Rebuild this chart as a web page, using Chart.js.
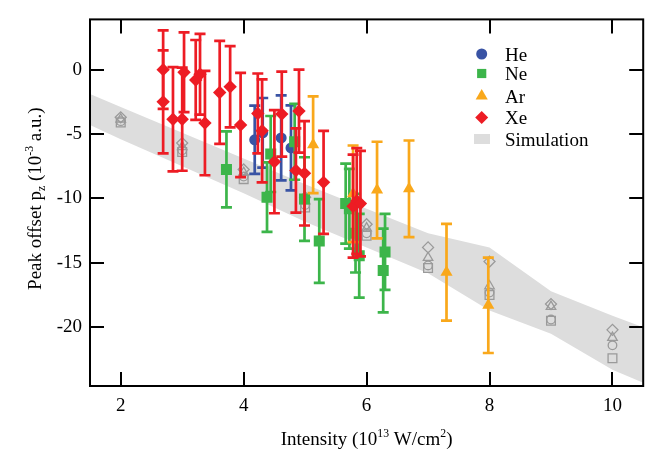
<!DOCTYPE html>
<html>
<head>
<meta charset="utf-8">
<script src="https://cdn.jsdelivr.net/npm/chart.js@4.4.0/dist/chart.umd.min.js"></script>
<style>
  html, body { margin: 0; padding: 0; background: #fff; }
</style>
</head>
<body>
<canvas id="chart" width="651" height="454"></canvas>
<script>
// values: x = intensity (1e13 W/cm2), y = peak offset (1e-3 a.u.)
const heX = [4.18, 4.31, 4.61, 4.77];
const heY = [-5.45, -4.9, -5.3, -6.08];
const heErr = [2.65, 2.7, 3.3, 3.3];

const neX = [3.72, 4.44, 4.38, 4.83, 4.99, 5.23, 5.66, 5.72, 5.82, 5.88, 6.3, 6.27];
const neY = [-7.75, -6.55, -9.9, -5.6, -10.05, -13.3, -10.4, -10.8, -12.7, -14.45, -14.15, -15.6];
const neErr = [2.95, 2.95, 2.7, 2.95, 3.25, 3.25, 3.1, 3.1, 3.05, 3.25, 2.95, 3.25];

const arX = [5.13, 5.78, 6.17, 6.69, 7.3, 7.98];
const arY = [-5.83, -9.64, -9.35, -9.25, -15.73, -18.3];
const arErr = [3.75, 3.75, 3.75, 3.75, 3.75, 3.7];

const xeX = [2.69, 2.69, 2.85, 3.0, 3.03, 3.22, 3.29, 3.37, 3.61, 3.78, 3.95,
             4.23, 4.3, 4.5, 4.62, 4.9, 4.85, 4.99, 5.3, 5.78, 5.84, 5.9];
const xeY = [0.0, -2.5, -3.85, -3.85, -0.2, -0.8, -0.36, -4.15, -1.77, -1.33, -4.3,
             -3.4, -4.75, -7.15, -3.45, -3.22, -7.83, -8.05, -8.75, -10.6, -10.2, -10.4];
const xeErr = [3.05, 4.0, 4.05, 4.0, 3.1, 3.1, 3.14, 4.05, 4.0, 3.15, 4.05,
               3.1, 4.0, 4.0, 3.3, 3.22, 3.27, 4.05, 4.0, 4.0, 4.1, 4.1];

// simulation, one open marker per target gas
const simX = [2, 3, 4, 5, 6, 7, 8, 9, 10];
const simDiamond  = [-3.7, -5.7, -7.75, -9.9, -12.0, -13.8, -14.9, -18.2, -20.2];
const simTriangle = [-3.85, -6.0, -8.0, -10.2, -12.3, -14.6, -16.8, -18.4, -20.8];
const simCircle   = [-4.0, -6.25, -8.3, -10.5, -12.7, -15.2, -17.3, -19.4, -21.4];
const simSquare   = [-4.1, -6.4, -8.5, -10.7, -12.9, -15.4, -17.5, -19.5, -22.4];

// simulation band (grey area)
const bandX     = [1.5, 2, 3, 4, 5, 6, 7, 8, 9, 10, 10.5];
const bandUpper = [-1.9, -2.9, -4.9, -6.9, -8.9, -10.8, -12.7, -13.8, -17.2, -19.1, -20.0];
const bandLower = [-4.3, -5.4, -7.5, -9.6, -11.8, -13.8, -15.8, -18.7, -20.5, -23.3, -24.3];

const xTicks = [2, 4, 6, 8, 10];
const yTicks = [0, -5, -10, -15, -20];
const seriesNames = ['He', 'Ne', 'Ar', 'Xe', 'Simulation'];

const RED = '#ED1C24', GREEN = '#3CB54A', ORANGE = '#F9A81B', BLUE = '#3953A4';
const SIMGREY = '#9a9a9a', BANDGREY = '#dddddd';
const FONT = '"Liberation Serif", "Times New Roman", serif';

const pts = (xs, ys) => xs.map((x, i) => ({ x: x, y: ys[i] }));

function gasSet(label, xs, ys, errs, color, style, r, order) {
  return {
    label: label, data: pts(xs, ys), errors: errs,
    backgroundColor: color, borderColor: color, borderWidth: 0,
    pointStyle: style, pointRadius: r, pointHoverRadius: r, order: order
  };
}
function simSet(ys, style, r) {
  return {
    label: 'sim', data: pts(simX, ys),
    backgroundColor: 'rgba(0,0,0,0)', borderColor: SIMGREY, borderWidth: 1.3,
    pointStyle: style, pointRadius: r, order: 8
  };
}

// error bars drawn right before each dataset's markers
const errorBars = {
  id: 'errorBars',
  beforeDatasetDraw(chart, args) {
    const ds = chart.data.datasets[args.index];
    if (!ds.errors) return;
    const xs = chart.scales.x, ys = chart.scales.y, ctx = chart.ctx;
    ctx.save();
    ctx.strokeStyle = ds.borderColor;
    ctx.lineWidth = 2.7;
    ds.data.forEach((p, i) => {
      const e = ds.errors[i];
      const px = xs.getPixelForValue(p.x);
      const top = ys.getPixelForValue(p.y + e);
      const bot = ys.getPixelForValue(p.y - e);
      ctx.beginPath();
      ctx.moveTo(px, top); ctx.lineTo(px, bot);
      ctx.moveTo(px - 5.5, top); ctx.lineTo(px + 5.5, top);
      ctx.moveTo(px - 5.5, bot); ctx.lineTo(px + 5.5, bot);
      ctx.stroke();
    });
    ctx.restore();
  }
};

function richText(ctx, parts, x, y, size) {
  let w = 0;
  parts.forEach(p => {
    ctx.font = (p.s ? size * 0.62 : size) + 'px ' + FONT;
    p.w = ctx.measureText(p.t).width;
    w += p.w;
  });
  let cx = x - w / 2;
  parts.forEach(p => {
    ctx.font = (p.s ? size * 0.62 : size) + 'px ' + FONT;
    const dy = p.s === 'sup' ? -size * 0.42 : p.s === 'sub' ? size * 0.2 : 0;
    ctx.fillText(p.t, cx, y + dy);
    cx += p.w;
  });
}

// frame, inward ticks, axis titles and legend
const decor = {
  id: 'decor',
  afterDraw(chart) {
    const ctx = chart.ctx, a = chart.chartArea;
    const xs = chart.scales.x, ys = chart.scales.y;
    ctx.save();
    ctx.strokeStyle = '#000';
    ctx.lineWidth = 2;
    ctx.strokeRect(a.left, a.top, a.right - a.left, a.bottom - a.top);
    ctx.beginPath();
    const tl = 14;
    xTicks.forEach(v => {
      const px = Math.round(xs.getPixelForValue(v));
      ctx.moveTo(px, a.bottom); ctx.lineTo(px, a.bottom - tl);
      ctx.moveTo(px, a.top); ctx.lineTo(px, a.top + tl);
    });
    yTicks.forEach(v => {
      const py = Math.round(ys.getPixelForValue(v));
      ctx.moveTo(a.left, py); ctx.lineTo(a.left + tl, py);
      ctx.moveTo(a.right, py); ctx.lineTo(a.right - tl, py);
    });
    ctx.stroke();

    ctx.fillStyle = '#000';
    ctx.textBaseline = 'alphabetic';
    ctx.textAlign = 'left';
    richText(ctx, [{ t: 'Intensity (10' }, { t: '13', s: 'sup' }, { t: ' W/cm' }, { t: '2', s: 'sup' }, { t: ')' }],
      (a.left + a.right) / 2, 445, 19);
    ctx.save();
    ctx.translate(41, (a.top + a.bottom) / 2 - 4);
    ctx.rotate(-Math.PI / 2);
    richText(ctx, [{ t: 'Peak offset p' }, { t: 'z', s: 'sub' }, { t: ' (10' }, { t: '-3', s: 'sup' }, { t: ' a.u.)' }],
      0, 0, 19);
    ctx.restore();

    // legend
    const rows = [54, 73.5, 96, 117.5, 139];
    const styles = [['circle', 5.5, BLUE], ['rect', 6.5, GREEN], ['triangle', 7, ORANGE], ['rectRot', 6.5, RED]];
    ctx.font = '19px ' + FONT;
    seriesNames.forEach((name, i) => {
      const y = rows[i];
      if (i < 4) {
        ctx.fillStyle = styles[i][2];
        Chart.helpers.drawPoint(ctx, { pointStyle: styles[i][0], radius: styles[i][1], rotation: 0, borderWidth: 0 }, 481.7, y);
      } else {
        ctx.fillStyle = BANDGREY;
        ctx.fillRect(474, y - 5, 16, 10);
      }
      ctx.fillStyle = '#000';
      ctx.fillText(name, 505, y + 6.5);
    });
    ctx.restore();
  }
};

new Chart(document.getElementById('chart'), {
  type: 'scatter',
  data: {
    datasets: [
      gasSet(seriesNames[3], xeX, xeY, xeErr, RED, 'rectRot', 6.7, 0),
      gasSet(seriesNames[2], arX, arY, arErr, ORANGE, 'triangle', 7, 1),
      gasSet(seriesNames[1], neX, neY, neErr, GREEN, 'rect', 7.8, 2),
      gasSet(seriesNames[0], heX, heY, heErr, BLUE, 'circle', 5.5, 3),
      simSet(simDiamond, 'rectRot', 5.5),
      simSet(simTriangle, 'triangle', 5.5),
      simSet(simCircle, 'circle', 4.3),
      simSet(simSquare, 'rect', 6.2),
      {
        type: 'line', label: seriesNames[4], data: pts(bandX, bandUpper),
        showLine: true, fill: '+1', backgroundColor: BANDGREY, borderWidth: 0,
        pointRadius: 0, tension: 0, order: 10
      },
      {
        type: 'line', label: 'bandLower', data: pts(bandX, bandLower),
        showLine: true, fill: false, borderWidth: 0, pointRadius: 0, tension: 0, order: 10
      }
    ]
  },
  options: {
    responsive: false,
    animation: false,
    events: [],
    layout: { padding: { top: 12, right: 5, left: 0, bottom: 0 } },
    plugins: { legend: { display: false }, tooltip: { enabled: false } },
    scales: {
      x: {
        type: 'linear', min: 1.5, max: 10.5,
        afterFit: s => { s.height = 68; },
        afterBuildTicks: s => { s.ticks = xTicks.map(v => ({ value: v })); },
        grid: { display: false, drawTicks: false },
        border: { display: false },
        ticks: { color: '#000', font: { family: FONT, size: 19 }, padding: 9 }
      },
      y: {
        type: 'linear', min: -24.56, max: 3.9,
        afterFit: s => { s.width = 90; },
        afterBuildTicks: s => { s.ticks = yTicks.map(v => ({ value: v })); },
        grid: { display: false, drawTicks: false },
        border: { display: false },
        ticks: { color: '#000', font: { family: FONT, size: 19 }, padding: 8 }
      }
    }
  },
  plugins: [errorBars, decor]
});
</script>
</body>
</html>
